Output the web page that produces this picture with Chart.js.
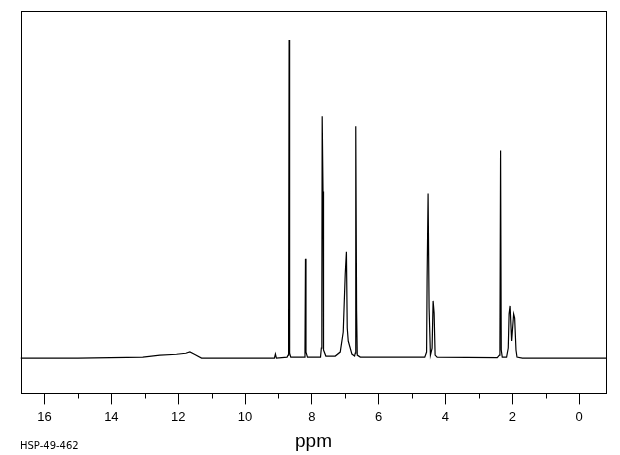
<!DOCTYPE html>
<html>
<head>
<meta charset="utf-8">
<script src="https://cdn.jsdelivr.net/npm/chart.js@4.4.0/dist/chart.umd.min.js"></script>
<style>
  html, body { margin: 0; padding: 0; background: #fff; }
  #wrap { position: relative; width: 620px; height: 455px; }
  #code {
    position: absolute; left: 20px; top: 440.5px;
    font: 10px/10px "DejaVu Sans", sans-serif; color: #000;
  }
</style>
</head>
<body>
<div id="wrap">
  <canvas id="chartCanvas" width="620" height="455"></canvas>
  <div id="code">HSP-49-462</div>
</div>
<script>
// chemical shift (ppm) and intensity
const ppm = [
  16.72, 15.0, 13.06, 12.55, 12.05, 11.77, 11.65, 11.50, 11.30,
  9.12, 9.09, 9.06,
  8.74, 8.71, 8.695, 8.68, 8.665, 8.63,
  8.23, 8.205, 8.19, 8.175, 8.13,
  7.74, 7.715, 7.70, 7.69, 7.665, 7.65, 7.58,
  7.30, 7.15, 7.06, 7.00, 6.965, 6.94, 6.91, 6.80,
  6.72, 6.70, 6.685, 6.66, 6.64, 6.55,
  4.62, 4.565, 4.55, 4.52, 4.49, 4.45, 4.40, 4.37, 4.34, 4.31, 4.25,
  2.45, 2.385, 2.37, 2.35, 2.33, 2.30,
  2.17, 2.12, 2.095, 2.065, 2.02, 1.96, 1.93, 1.89, 1.86, 1.70,
  -0.82
];
const intensity = [
  0, 0, 1, 3, 3.8, 4.8, 6.2, 3.5, 0,
  0, 4, 0,
  1, 3, 40, 317, 5, 1,
  1, 8, 99, 6, 1,
  1, 10, 66, 241, 166, 8, 2,
  2, 6, 26, 84, 106, 30, 17, 4,
  2, 5, 231, 47, 3, 1,
  1, 6, 77, 164, 50, 3, 10, 57, 45, 3, 1,
  0.5, 3, 16, 207, 8, 1,
  1, 10, 44, 52, 17, 44, 40, 8, 1, 0,
  0
];
const majorTicks = [16, 14, 12, 10, 8, 6, 4, 2, 0];
const minorTicks = [15, 13, 11, 9, 7, 5, 3, 1];

const points = ppm.map((x, i) => ({ x: x, y: intensity[i] }));

// box round the plot and the short odd-ppm ticks
const frame = {
  id: 'frame',
  afterDraw(chart) {
    const c = chart.ctx;
    const a = chart.chartArea;
    const xs = chart.scales.x;
    c.save();
    c.strokeStyle = '#000';
    c.lineWidth = 1;
    const l = Math.round(a.left) + 0.5, r = Math.round(a.right) - 0.5;
    const t = Math.round(a.top) + 0.5, b = Math.round(a.bottom) - 0.5;
    c.strokeRect(l, t, r - l, b - t);
    c.beginPath();
    minorTicks.forEach(v => {
      const px = Math.round(xs.getPixelForValue(v)) + 0.5;
      c.moveTo(px, b);
      c.lineTo(px, b + 5);
    });
    c.stroke();
    c.restore();
  }
};

const ctx = document.getElementById('chartCanvas').getContext('2d');
new Chart(ctx, {
  type: 'scatter',
  data: {
    datasets: [{
      data: points,
      showLine: true,
      borderColor: '#000',
      borderWidth: 1.2,
      pointRadius: 0,
      tension: 0
    }]
  },
  options: {
    responsive: false,
    animation: false,
    layout: { padding: { left: 20.5, right: 13.5, top: 10.5, bottom: 3.8 } },
    plugins: {
      legend: { display: false },
      tooltip: { enabled: false }
    },
    scales: {
      x: {
        type: 'linear',
        reverse: true,
        min: -0.82,
        max: 16.72,
        afterBuildTicks: s => { s.ticks = majorTicks.map(v => ({ value: v })); },
        border: { display: false },
        grid: {
          drawOnChartArea: false,
          drawTicks: true,
          tickLength: 10,
          tickColor: '#000',
          tickWidth: 1
        },
        ticks: {
          padding: 5,
          color: '#000',
          maxRotation: 0,
          font: { family: '"Liberation Sans", Arial, sans-serif', size: 13 }
        },
        title: {
          display: true,
          text: 'ppm',
          color: '#000',
          padding: { top: 2.2, bottom: 0 },
          font: { family: '"Liberation Sans", Arial, sans-serif', size: 19, lineHeight: 1 }
        }
      },
      y: {
        display: false,
        min: -36.2,
        max: 346.5
      }
    }
  },
  plugins: [frame]
});
</script>
</body>
</html>
